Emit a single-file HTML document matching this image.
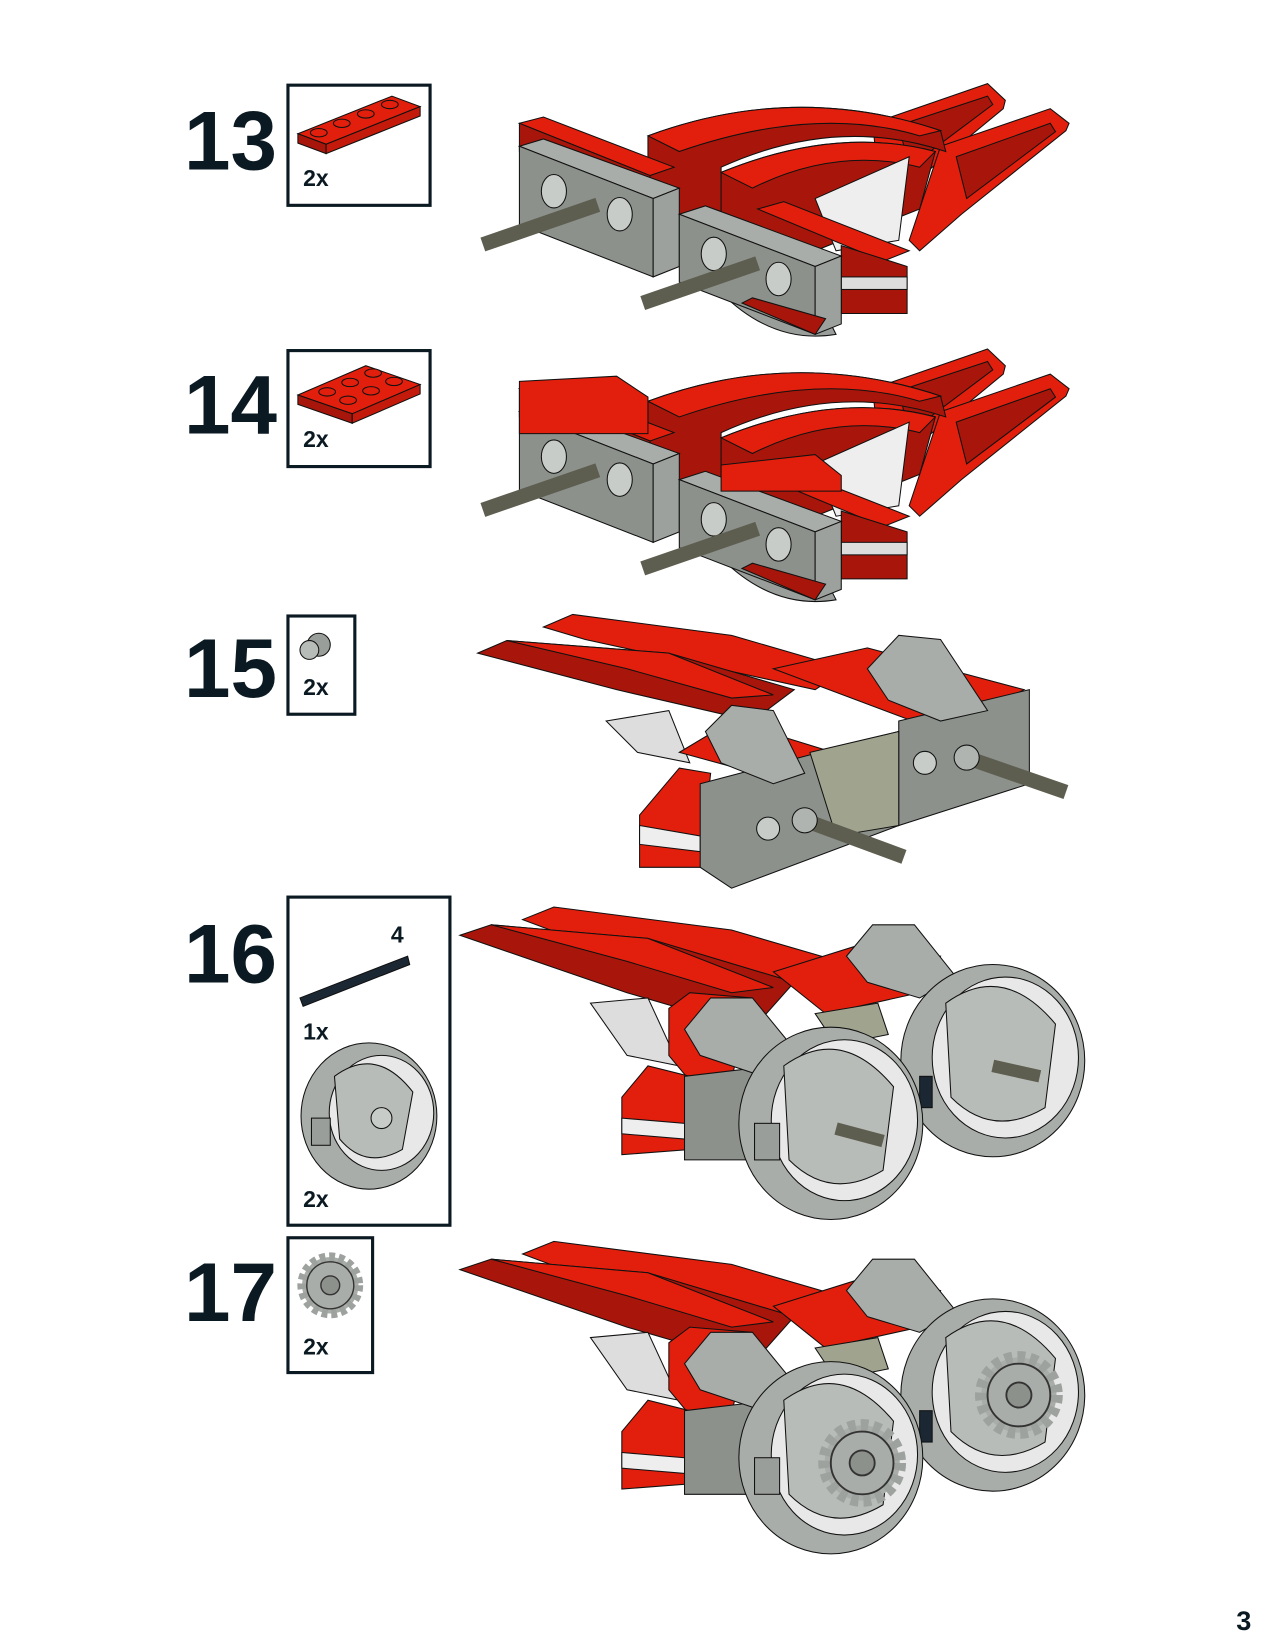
<!DOCTYPE html>
<html><head><meta charset="utf-8"><style>
html,body{margin:0;padding:0;background:#fff}
svg{display:block}
text{font-family:"Liberation Sans",sans-serif;font-weight:bold;fill:#0b1a22}
</style></head><body>
<svg width="1275" height="1650" viewBox="0 0 1220 1579" xmlns="http://www.w3.org/2000/svg">
<defs>
<g id="mA" stroke="#111" stroke-width="1">
 <polygon points="835,118 945,80 962,96 960,104 880,170 840,165" fill="#e21f0d"/>
 <polygon points="860,120 945,92 950,100 870,160" fill="#a8160b"/>
 <polygon points="900,140 1005,104 1023,118 1020,125 920,205 880,240 870,230" fill="#e21f0d"/>
 <polygon points="915,150 1005,118 1010,126 925,190" fill="#a8160b"/>
 <path d="M620,130 Q760,78 900,125 L905,145 Q800,110 690,160 L690,220 L620,195 Z" fill="#a8160b"/>
 <path d="M620,130 Q760,78 900,125 L880,130 Q780,100 650,145 Z" fill="#e21f0d"/>
 <path d="M690,165 Q800,120 895,145 L880,200 L780,240 L690,220 Z" fill="#a8160b"/>
 <path d="M690,165 Q800,120 895,145 L880,160 Q800,140 720,180 Z" fill="#e21f0d"/>
 <polygon points="780,190 870,150 860,230 800,240" fill="#eee"/>
 <polygon points="497,118 520,112 645,160 622,168" fill="#e21f0d"/>
 <polygon points="497,118 622,168 622,190 497,145" fill="#a8160b"/>
 <path d="M530,205 Q580,260 640,250 L630,230 Z" fill="#9a9e9a"/>
 <polygon points="497,140 520,133 650,180 625,190" fill="#a9ada9"/>
 <polygon points="497,140 625,190 625,265 497,215" fill="#8c918c"/>
 <polygon points="625,190 650,180 650,255 625,265" fill="#9da19d"/>
 <ellipse cx="530" cy="183" rx="12" ry="16" fill="#c8ccc8"/>
 <ellipse cx="593" cy="205" rx="12" ry="16" fill="#c8ccc8"/>
 <polygon points="725,200 750,193 870,240 845,250" fill="#e21f0d"/>
 <polygon points="805,235 868,255 868,300 805,300" fill="#a8160b"/>
 <rect x="805" y="265" width="63" height="12" fill="#ddd"/>
 <path d="M690,280 Q740,330 800,320 L790,300 Z" fill="#9a9e9a"/>
 <polygon points="650,205 675,197 805,245 780,255" fill="#a9ada9"/>
 <polygon points="650,205 780,255 780,320 650,270" fill="#8c918c"/>
 <polygon points="780,255 805,245 805,310 780,320" fill="#9da19d"/>
 <ellipse cx="683" cy="243" rx="12" ry="16" fill="#c8ccc8"/>
 <ellipse cx="745" cy="267" rx="12" ry="16" fill="#c8ccc8"/>
 <polygon points="710,290 780,320 790,305 720,285" fill="#a8160b"/>
 <line x1="462" y1="234" x2="572" y2="196" stroke="#5e5e50" stroke-width="14"/>
 <line x1="615" y1="290" x2="725" y2="252" stroke="#5e5e50" stroke-width="14"/>
</g>
<g id="mC" stroke="#111" stroke-width="1">
 <polygon points="520,600 548,588 700,608 810,640 780,660 560,612" fill="#e21f0d"/>
 <polygon points="457,625 485,613 640,625 760,660 720,690 590,660" fill="#a8160b"/>
 <polygon points="485,613 640,625 740,665 700,668 600,640" fill="#e21f0d"/>
 <polygon points="580,690 640,680 660,730 610,720" fill="#ddd"/>
 <polygon points="740,640 830,620 980,660 900,700" fill="#e21f0d"/>
 <polygon points="650,720 700,690 830,730 760,750" fill="#e21f0d"/>
 <polygon points="612,780 650,735 680,740 670,830 612,830" fill="#e21f0d"/>
 <polygon points="612,790 670,800 670,815 612,808" fill="#eee"/>
 <polygon points="670,750 860,700 860,790 700,850 670,830" fill="#8c918c"/>
 <polygon points="860,690 985,660 985,750 860,790" fill="#8c918c"/>
 <polygon points="775,720 860,700 860,790 800,800" fill="#a0a48f"/>
 <path d="M675,700 L700,675 L740,680 L770,740 L740,750 L690,730 Z" fill="#a9ada9"/>
 <path d="M830,640 L860,608 L900,612 L945,680 L900,690 L850,670 Z" fill="#a9ada9"/>
 <circle cx="735" cy="793" r="11" fill="#c8ccc8"/>
 <circle cx="885" cy="730" r="11" fill="#c8ccc8"/>
 <line x1="770" y1="785" x2="865" y2="820" stroke="#5e5e50" stroke-width="14"/>
 <line x1="925" y1="725" x2="1020" y2="758" stroke="#5e5e50" stroke-width="14"/>
 <circle cx="770" cy="785" r="12" fill="#b0b4b0"/>
 <circle cx="925" cy="725" r="12" fill="#b0b4b0"/>
</g>
<g id="mD" stroke="#111" stroke-width="1">
 <polygon points="500,880 530,868 700,890 820,925 790,945 540,895" fill="#e21f0d"/>
 <polygon points="440,895 470,885 620,898 760,940 720,985 600,950" fill="#a8160b"/>
 <polygon points="470,885 620,898 740,945 700,950 600,920" fill="#e21f0d"/>
 <polygon points="565,960 620,955 650,1020 600,1010" fill="#ddd"/>
 <polygon points="740,930 820,905 900,915 880,950 790,970" fill="#e21f0d"/>
 <polygon points="640,965 660,950 720,955 690,1070 640,1010" fill="#e21f0d"/>
 <polygon points="595,1050 620,1020 660,1030 660,1100 595,1105" fill="#e21f0d"/>
 <polygon points="595,1070 655,1075 655,1090 595,1085" fill="#eee"/>
 <polygon points="655,1030 740,1020 740,1110 655,1110" fill="#8c918c"/>
 <polygon points="780,970 840,960 850,990 800,1000" fill="#a0a48f"/>
 <path d="M655,985 L680,955 L720,955 L765,1010 L730,1030 L670,1010 Z" fill="#a9ada9"/>
 <path d="M810,915 L835,885 L875,885 L915,935 L880,955 L830,940 Z" fill="#a9ada9"/>
 <ellipse cx="950" cy="1015" rx="88" ry="92" fill="#a9ada9"/>
 <ellipse cx="962" cy="1012" rx="70" ry="77" fill="#e8e8e8"/>
 <path d="M905,960 Q960,920 1010,980 L1000,1060 Q950,1090 910,1050 Z" fill="#b8bcb8"/>
 <line x1="950" y1="1020" x2="995" y2="1030" stroke="#5e5e50" stroke-width="12"/>
 <rect x="880" y="1030" width="12" height="30" fill="#1b2733"/>
 <ellipse cx="795" cy="1075" rx="88" ry="92" fill="#a9ada9"/>
 <ellipse cx="808" cy="1072" rx="70" ry="77" fill="#e8e8e8"/>
 <path d="M750,1020 Q805,980 855,1040 L845,1120 Q795,1150 755,1110 Z" fill="#b8bcb8"/>
 <line x1="800" y1="1080" x2="845" y2="1092" stroke="#5e5e50" stroke-width="12"/>
 <rect x="722" y="1075" width="24" height="35" fill="#9a9e9a"/>
</g>
<g id="gear" stroke="#333" stroke-width="1.5" fill="#a9ada9">
 <circle r="30" stroke-dasharray="6 4" stroke-width="10" stroke="#9ea29e"/>
 <circle r="25"/>
 <circle r="10" fill="#8c918c"/>
</g>
</defs>

<text x="176" y="162" font-size="80">13</text>
<text x="176" y="415" font-size="80">14</text>
<text x="176" y="667" font-size="80">15</text>
<text x="176" y="940" font-size="80">16</text>
<text x="176" y="1264" font-size="80">17</text>

<g fill="none" stroke="#0b1a22" stroke-width="3">
<rect x="275.5" y="81.5" width="136" height="115"/>
<rect x="275.5" y="335.5" width="136" height="111"/>
<rect x="275.5" y="589.5" width="64" height="94"/>
<rect x="275.5" y="858.5" width="155" height="314"/>
<rect x="275.5" y="1184.5" width="81" height="129"/>
</g>
<g stroke="#111" stroke-width="1">
 <polygon points="285,128 375,92 402,102 312,138" fill="#e21f0d"/>
 <polygon points="285,128 312,138 312,147 285,137" fill="#a8160b"/>
 <polygon points="312,138 402,102 402,111 312,147" fill="#c41a0c"/>
 <g fill="#e21f0d"><ellipse cx="305" cy="127" rx="8" ry="4"/><ellipse cx="327" cy="118" rx="8" ry="4"/><ellipse cx="350" cy="109" rx="8" ry="4"/><ellipse cx="373" cy="100" rx="8" ry="4"/></g>
 <polygon points="285,378 350,350 402,368 337,396" fill="#e21f0d"/>
 <polygon points="285,378 337,396 337,405 285,387" fill="#a8160b"/>
 <polygon points="337,396 402,368 402,377 337,405" fill="#c41a0c"/>
 <g fill="#e21f0d"><ellipse cx="313" cy="375" rx="8" ry="4"/><ellipse cx="335" cy="366" rx="8" ry="4"/><ellipse cx="357" cy="357" rx="8" ry="4"/><ellipse cx="333" cy="383" rx="8" ry="4"/><ellipse cx="355" cy="374" rx="8" ry="4"/><ellipse cx="377" cy="365" rx="8" ry="4"/></g>
 <circle cx="305" cy="617" r="11" fill="#9a9e9a"/><circle cx="296" cy="622" r="9" fill="#b8bcb8"/>
 <polygon points="287,955 390,915 392,923 290,963" fill="#1b2733"/>
 <ellipse cx="353" cy="1068" rx="65" ry="70" fill="#a9ada9"/>
 <ellipse cx="365" cy="1065" rx="50" ry="55" fill="#e8e8e8"/>
 <path d="M320,1030 Q360,1000 395,1045 L385,1100 Q350,1120 325,1090 Z" fill="#b8bcb8"/>
 <circle cx="365" cy="1070" r="10" fill="#c8ccc8"/>
 <rect x="298" y="1070" width="18" height="26" fill="#9a9e9a"/>
</g>
<use href="#gear" transform="translate(316,1230) scale(0.9)"/>
<g font-size="22">
<text x="290" y="178">2x</text>
<text x="290" y="428">2x</text>
<text x="290" y="665">2x</text>
<text x="374" y="902">4</text>
<text x="290" y="995">1x</text>
<text x="290" y="1155">2x</text>
<text x="290" y="1296">2x</text>
</g>

<use href="#mA"/>
<use href="#mA" transform="translate(0,254)"/>
<g stroke="#111" fill="#e21f0d">
 <polygon points="497,365 590,360 620,380 620,415 497,415"/>
 <polygon points="690,445 780,435 805,455 805,470 690,470"/>
</g>
<use href="#mC"/>
<use href="#mD"/>
<use href="#mD" transform="translate(0,320)"/>
<use href="#gear" transform="translate(975,1335) scale(1.2)"/>
<use href="#gear" transform="translate(825,1400) scale(1.2)"/>

<text x="1183" y="1560" font-size="26">3</text>
</svg>
</body></html>
